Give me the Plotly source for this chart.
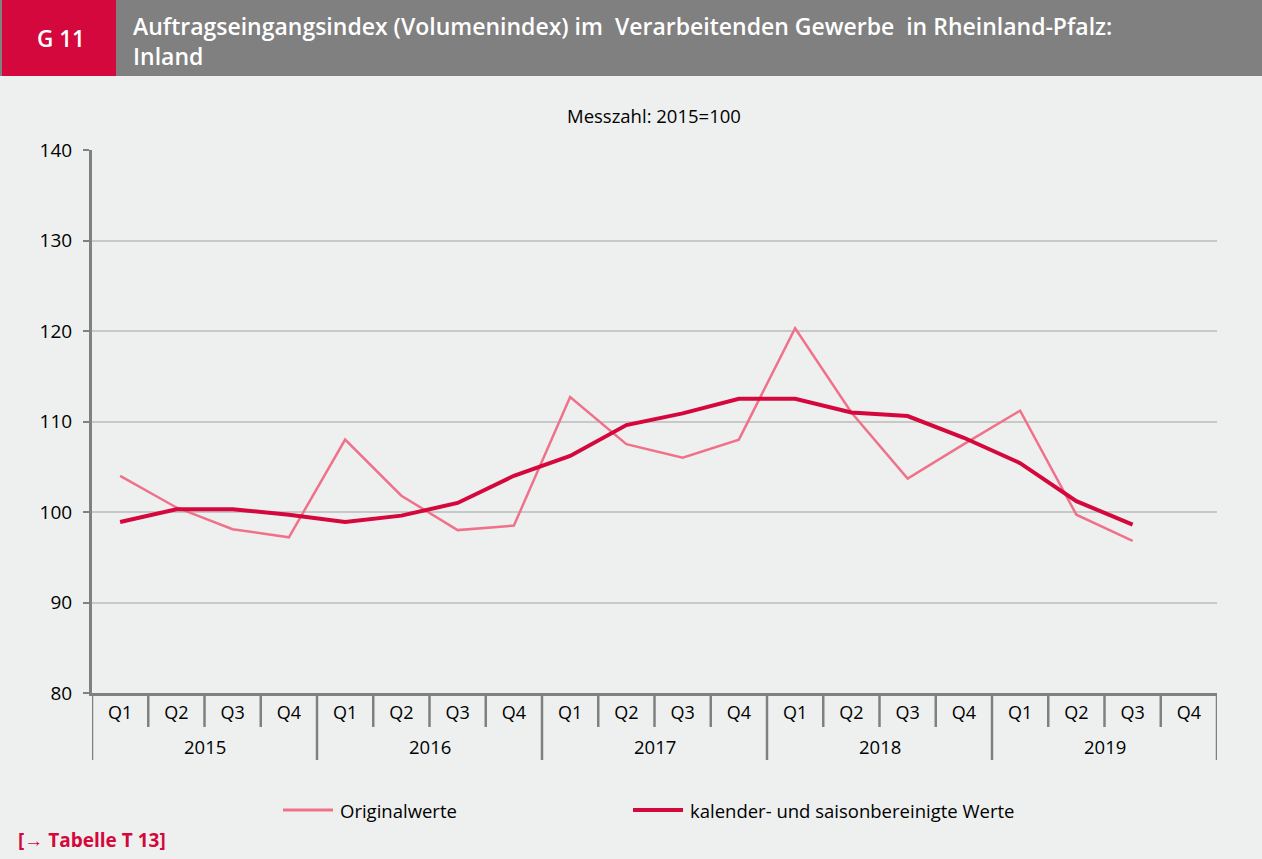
import plotly.graph_objects as go

years = ['2015', '2016', '2017', '2018', '2019']
quarters = ['Q1', 'Q2', 'Q3', 'Q4']
labels = [q for y in years for q in quarters]

original = [104.0, 100.5, 98.1, 97.2,
            108.0, 101.8, 98.0, 98.5,
            112.7, 107.5, 106.0, 108.0,
            120.3, 111.0, 103.7, 107.5,
            111.2, 99.7, 96.8, None]
bereinigt = [98.9, 100.3, 100.3, 99.7,
             98.9, 99.6, 101.0, 104.0,
             106.2, 109.6, 110.9, 112.5,
             112.5, 111.0, 110.6, 108.2,
             105.4, 101.2, 98.6, None]

names = ['Originalwerte', 'kalender- und saisonbereinigte Werte']

RED = 'rgb(212, 8, 60)'
PINK = 'rgb(240, 114, 138)'
AXIS = '#808080'
BG = '#eef0ef'
FONT = 'Open Sans'

W, H = 1262, 859
L, R, T, B = 92, 45, 150, 166
pw, ph = W - L - R, H - T - B


# pixel -> paper helpers for the page decorations
def px(p):
    return (p - L) / pw


def py(p):
    return (H - B - p) / ph


x = list(range(len(labels)))

fig = go.Figure()
fig.add_trace(go.Scatter(x=x, y=original, name=names[0], mode='lines',
                         line=dict(color=PINK, width=2.5), showlegend=False))
fig.add_trace(go.Scatter(x=x, y=bereinigt, name=names[1], mode='lines',
                         line=dict(color=RED, width=4), showlegend=False))

shapes = []
# header bar
shapes.append(dict(type='rect', xref='paper', yref='paper', x0=px(0), x1=px(W),
                   y0=py(76), y1=py(0), fillcolor=AXIS, line_width=0, layer='below'))
shapes.append(dict(type='rect', xref='paper', yref='paper', x0=px(2), x1=px(116),
                   y0=py(76), y1=py(0), fillcolor=RED, line_width=0, layer='below'))
# category separators
for i in range(len(labels) + 1):
    long = (i % 4 == 0)
    shapes.append(dict(type='line', xref='x', yref='paper', x0=i - 0.5, x1=i - 0.5,
                       y0=0, y1=py(760 if long else 727), line=dict(color=AXIS, width=2.5)))
# legend lines
shapes.append(dict(type='line', xref='paper', yref='paper', x0=px(283), x1=px(333),
                   y0=py(810), y1=py(810), line=dict(color=PINK, width=3)))
shapes.append(dict(type='line', xref='paper', yref='paper', x0=px(633), x1=px(683),
                   y0=py(810), y1=py(810), line=dict(color=RED, width=4)))

annotations = []
for k, yr in enumerate(years):
    annotations.append(dict(x=4 * k + 1.5, y=py(746), xref='x', yref='paper', text=yr,
                            yanchor='middle', showarrow=False))
annotations.append(dict(x=px(654), y=py(115), xref='paper', yref='paper', yanchor='middle',
                        text='Messzahl: 2015=100', showarrow=False))
annotations.append(dict(x=px(61), y=py(39), xref='paper', yref='paper',
                        xanchor='center', yanchor='middle',
                        text='G 11', showarrow=False,
                        font=dict(size=22.5, color='white', weight=600)))
annotations.append(dict(x=px(131), y=py(41), xref='paper', yref='paper',
                        xanchor='left', yanchor='middle', align='left',
                        text='Auftragseingangsindex (Volumenindex) im  Verarbeitenden Gewerbe  in Rheinland-Pfalz:<br>Inland',
                        showarrow=False, font=dict(size=23, color='white', weight=600)))
annotations.append(dict(x=px(338), y=py(810), xref='paper', yref='paper',
                        xanchor='left', yanchor='middle', text=names[0], showarrow=False))
annotations.append(dict(x=px(688), y=py(810), xref='paper', yref='paper',
                        xanchor='left', yanchor='middle', text=names[1], showarrow=False))
annotations.append(dict(x=px(16), y=py(840), xref='paper', yref='paper',
                        xanchor='left', yanchor='middle', text='<b>[→ Tabelle T 13]</b>', showarrow=False,
                        font=dict(size=19, color=RED)))

fig.update_layout(
    width=W, height=H,
    margin=dict(l=L, r=R, t=T, b=B),
    paper_bgcolor=BG, plot_bgcolor=BG,
    font=dict(family=FONT, size=18.5, color='black'),
    showlegend=False,
    xaxis=dict(range=[-0.5, len(labels) - 0.5], tickvals=x, ticktext=labels,
               showgrid=False, zeroline=False, showline=True, linecolor=AXIS, linewidth=3,
               ticks='', tickfont=dict(size=18), ticklabelstandoff=1),
    yaxis=dict(range=[80, 140], dtick=10, showgrid=True, gridcolor='#c8c8c8', gridwidth=2,
               zeroline=False, showline=True, linecolor=AXIS, linewidth=3,
               ticks='outside', ticklen=6, tickwidth=2, tickcolor=AXIS,
               tickfont=dict(size=19), ticklabelstandoff=7),
    shapes=shapes,
    annotations=annotations,
)

fig.write_html('out.html', config={'displayModeBar': False},
               post_script="document.body.style.margin='0';")
